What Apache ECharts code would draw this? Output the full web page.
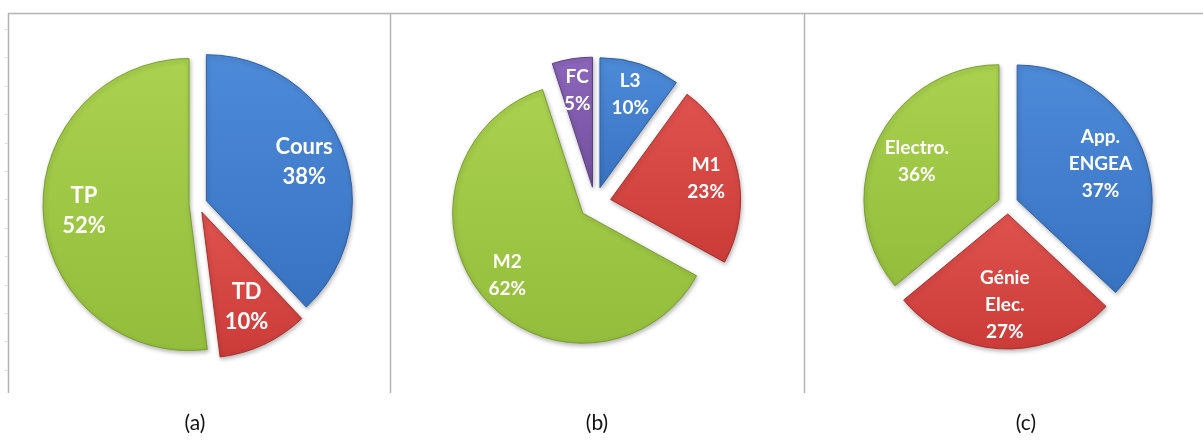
<!DOCTYPE html>
<html>
<head>
<meta charset="utf-8">
<script src="https://cdn.jsdelivr.net/npm/echarts@6/dist/echarts.min.js"></script>
<style>
  html, body { margin: 0; padding: 0; background: #ffffff; }
  #chart { width: 1203px; height: 440px; }
</style>
</head>
<body>
<div id="chart"></div>
<script>
// (a) teaching format
const namesA = ['Cours', 'TD', 'TP'];
const valuesA = [38, 10, 52];
// (b) level
const namesB = ['L3', 'M1', 'M2', 'FC'];
const valuesB = [10, 23, 62, 5];
// (c) field
const namesC = ['App.\nENGEA', 'Génie\nElec.', 'Electro.'];
const valuesC = [37, 27, 36];
const captions = ['(a)', '(b)', '(c)'];

// slice palettes: [light, base, rim]
const BLUE = ['#4d8ad8', '#3873c2', '#2d5fa3'];
const RED = ['#e0524e', '#cb3c39', '#a82f2c'];
const GREEN = ['#aad14f', '#93bd3c', '#7a9e2f'];
const PURPLE = ['#8c66bb', '#74509f', '#5d3f82'];

const colorsA = [BLUE, RED, GREEN];
const colorsB = [BLUE, RED, GREEN, PURPLE];
const colorsC = [BLUE, RED, GREEN];

function fill(p) {
  return new echarts.graphic.LinearGradient(0, 0, 0, 1, [
    { offset: 0, color: p[0] },
    { offset: 1, color: p[1] }
  ]);
}

function pieData(names, values, palette) {
  return names.map((n, i) => ({
    name: n,
    value: values[i],
    selected: true,
    itemStyle: {
      color: fill(palette[i]),
      borderColor: palette[i][2],
      borderWidth: 1,
      shadowBlur: 4,
      shadowOffsetX: 1,
      shadowOffsetY: 2,
      shadowColor: 'rgba(0,0,0,0.28)'
    }
  }));
}

function labelData(names, values) {
  return names.map((n, i) => ({ name: n, value: values[i], selected: true }));
}

// one exploded pie plus a transparent companion series that places the labels
function piePair(names, values, palette, center, r, offset, labelRatio, fontSize, lineHeight) {
  const main = {
    type: 'pie',
    center: center,
    radius: r,
    startAngle: 90,
    clockwise: true,
    selectedMode: 'multiple',
    selectedOffset: offset,
    silent: true,
    animation: false,
    label: { show: false },
    labelLine: { show: false },
    select: { itemStyle: {} },
    data: pieData(names, values, palette)
  };
  const labels = {
    type: 'pie',
    center: center,
    radius: r * labelRatio * 2,
    startAngle: 90,
    clockwise: true,
    selectedMode: 'multiple',
    selectedOffset: offset,
    silent: true,
    animation: false,
    z: 5,
    itemStyle: { color: 'rgba(0,0,0,0)', borderWidth: 0 },
    select: { itemStyle: { color: 'rgba(0,0,0,0)', borderWidth: 0 } },
    label: {
      show: true,
      position: 'inside',
      formatter: '{b}\n{c}%',
      color: '#ffffff',
      fontFamily: 'Lato',
      fontWeight: 'bold',
      fontSize: fontSize,
      lineHeight: lineHeight,
      align: 'center'
    },
    labelLine: { show: false },
    data: labelData(names, values)
  };
  return [main, labels];
}

const frame = '#b4b4b4';
const graphics = [
  { type: 'line', shape: { x1: 8, y1: 13.5, x2: 1203, y2: 13.5 }, style: { stroke: frame, lineWidth: 1.5 } },
  { type: 'line', shape: { x1: 8.5, y1: 13, x2: 8.5, y2: 393 }, style: { stroke: frame, lineWidth: 1.5 } },
  { type: 'line', shape: { x1: 390.5, y1: 13, x2: 390.5, y2: 393 }, style: { stroke: frame, lineWidth: 1.5 } },
  { type: 'line', shape: { x1: 804.5, y1: 13, x2: 804.5, y2: 393 }, style: { stroke: frame, lineWidth: 1.5 } }
];
// faint tick marks on the left frame
for (let y = 29; y < 393; y += 28.4) {
  graphics.push({ type: 'line', shape: { x1: 5, y1: Math.round(y) + 0.5, x2: 8, y2: Math.round(y) + 0.5 }, style: { stroke: '#dcdcdc', lineWidth: 1 } });
}
const captionX = [195, 597, 1026];
captions.forEach((c, i) => {
  graphics.push({
    type: 'text', x: captionX[i], y: 423,
    style: { text: c, fill: '#111111', font: '21px Lato', align: 'center', verticalAlign: 'middle' }
  });
});

const chart = echarts.init(document.getElementById('chart'), null, { renderer: 'canvas' });
chart.setOption({
  backgroundColor: '#ffffff',
  animation: false,
  graphic: graphics,
  series: [
    ...piePair(namesA, valuesA, colorsA, [198, 204], 146, 9, 0.70, 22, 30),
    ...piePair(namesB, valuesB, colorsB, [595, 203], 130, 16, 0.73, 19, 27),
    ...piePair(namesC, valuesC, colorsC, [1008, 204], 135, 10, 0.65, 19, 27)
  ]
});
</script>
</body>
</html>
